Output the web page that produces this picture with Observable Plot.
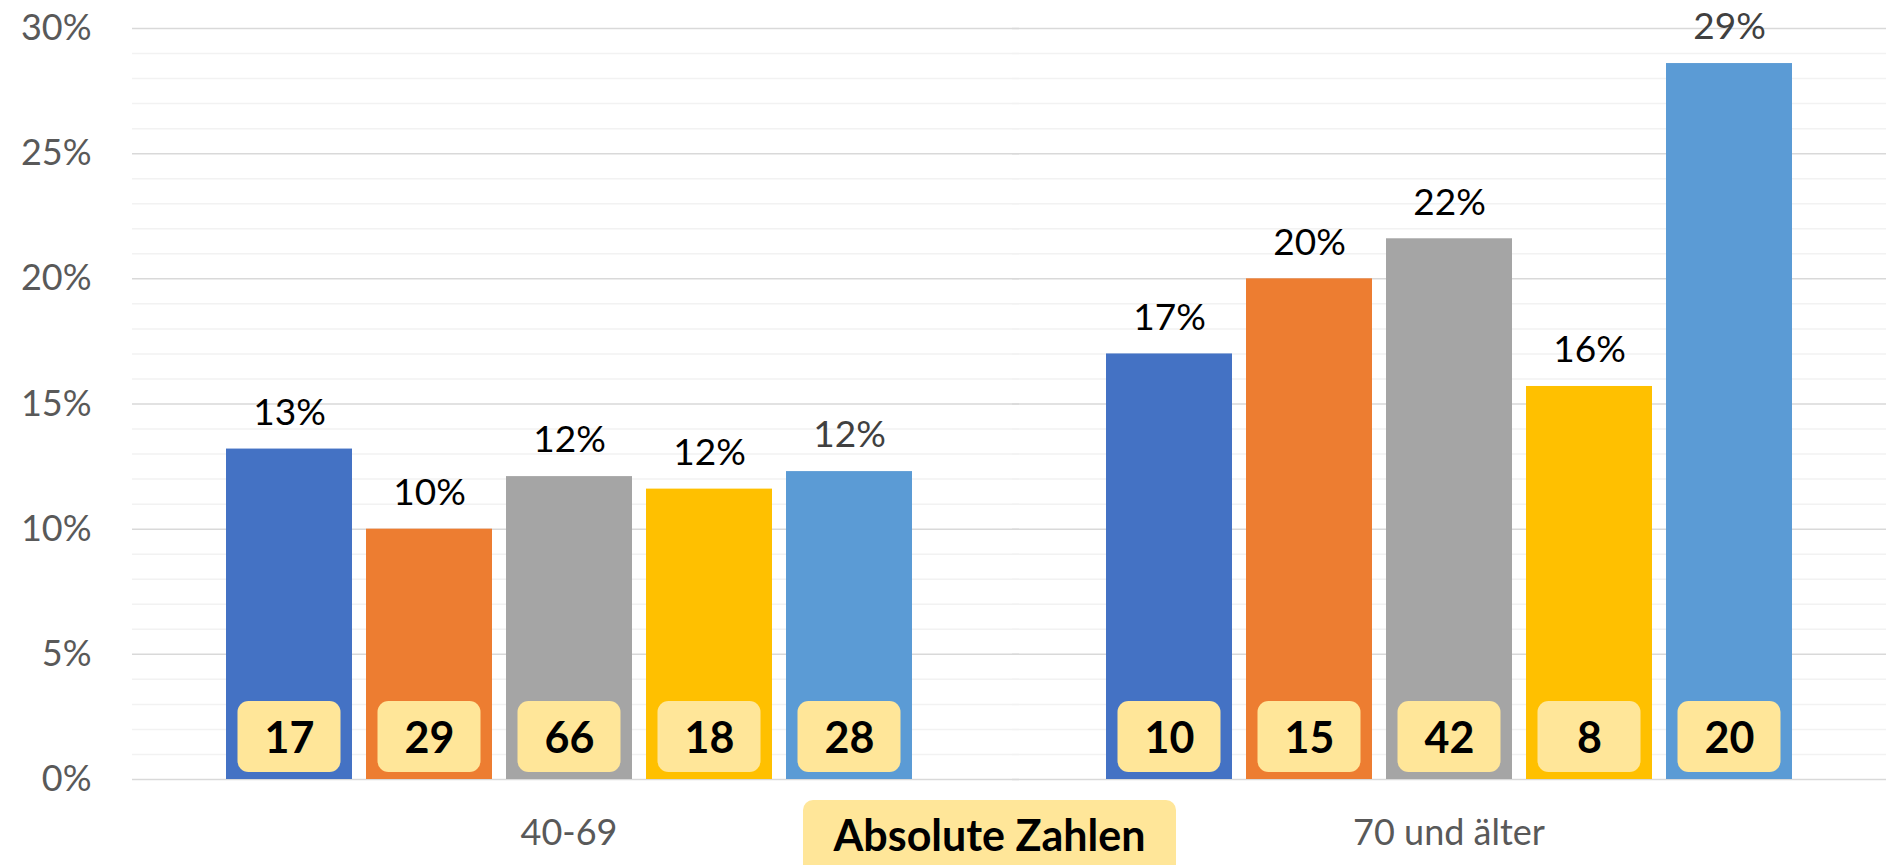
<!DOCTYPE html>
<html>
<head>
<meta charset="utf-8">
<script src="https://cdn.jsdelivr.net/npm/d3@7"></script>
<script src="https://cdn.jsdelivr.net/npm/@observablehq/plot@0.6"></script>
<style>
  html, body { margin: 0; padding: 0; background: #fff; }
  #wrap { position: relative; width: 1886px; height: 865px; overflow: hidden; background: #fff; }
  #legend {
    position: absolute; left: 803px; top: 800px; width: 373px; height: 80px;
    background: #FFE699; border-radius: 10px; box-sizing: border-box;
    font-family: Lato, sans-serif; font-weight: 700; font-size: 43px; line-height: 50px;
    padding-top: 10px; text-align: center; color: #000;
  }
</style>
</head>
<body>
<div id="wrap"></div>
<script>
// ---- data ----
const groups = ["40-69", "70 und älter"];
const series = ["Reihe 1", "Reihe 2", "Reihe 3", "Reihe 4", "Reihe 5"];
const colors = ["#4472C4", "#ED7D31", "#A5A5A5", "#FFC000", "#5B9BD5"];
const labelColors = ["#000000", "#000000", "#000000", "#000000", "#404040"];
const pct4069 = [13.2, 10.0, 12.1, 11.6, 12.3];
const pct70 = [17.0, 20.0, 21.6, 15.7, 28.6];
const count4069 = [17, 29, 66, 18, 28];
const count70 = [10, 15, 42, 8, 20];
const yTicks = [0, 5, 10, 15, 20, 25, 30];
const minorTicks = d3.range(1, 31).filter(d => d % 5 !== 0);
const legendText = "Absolute Zahlen";

// ---- table built from the arrays ----
const rows = [];
series.forEach((s, i) => {
  rows.push({group: groups[0], series: s, pct: pct4069[i], count: count4069[i], idx: i});
  rows.push({group: groups[1], series: s, pct: pct70[i], count: count70[i], idx: i});
});

const gridOpts = {insetLeft: -86, insetRight: -100, strokeWidth: 1.5};

const chart = Plot.plot({
  width: 1886,
  height: 865,
  marginLeft: 131,
  marginRight: 0,
  marginTop: 28,
  marginBottom: 86,
  style: {fontFamily: "Lato, sans-serif", fontSize: "36px", background: "white", overflow: "visible"},
  fx: {domain: groups, paddingInner: 0.203, paddingOuter: 0.0976, label: null},
  x: {domain: series, paddingInner: 0.1, paddingOuter: 0.05, axis: null},
  y: {domain: [0, 30], label: null},
  color: {domain: series, range: colors},
  marks: [
    Plot.ruleY(minorTicks, {y: d => d, stroke: "#F2F2F2", ...gridOpts}),
    Plot.ruleY(yTicks, {y: d => d, stroke: "#D9D9D9", ...gridOpts}),
    Plot.axisY({ticks: yTicks, tickFormat: d => d + "%", tickSize: 0, tickPadding: 127,
                fontSize: 36, color: "#595959", label: null}),
    Plot.axisFx({anchor: "bottom", tickSize: 0, tickPadding: 40, fontSize: 36,
                 color: "#595959", label: null}),
    Plot.barY(rows, {fx: "group", x: "series", y: "pct", fill: "series"}),
    Plot.text(rows, {fx: "group", x: "series", y: "pct", text: d => Math.round(d.pct) + "%",
                     fill: d => labelColors[d.idx], fontSize: 37, dy: -36}),
    Plot.barY(rows, {fx: "group", x: "series", y1: 0, y2: 0, fill: "#FFE699", rx: 11,
                     insetLeft: 11.5, insetRight: 11.5, insetTop: -78, insetBottom: 7}),
    Plot.text(rows, {fx: "group", x: "series", y: 0, text: d => String(d.count),
                     fill: "#000", fontSize: 43, fontWeight: 700, dy: -40})
  ]
});

const wrap = document.getElementById("wrap");
wrap.appendChild(chart);
const legend = document.createElement("div");
legend.id = "legend";
legend.textContent = legendText;
wrap.appendChild(legend);
</script>
</body>
</html>
